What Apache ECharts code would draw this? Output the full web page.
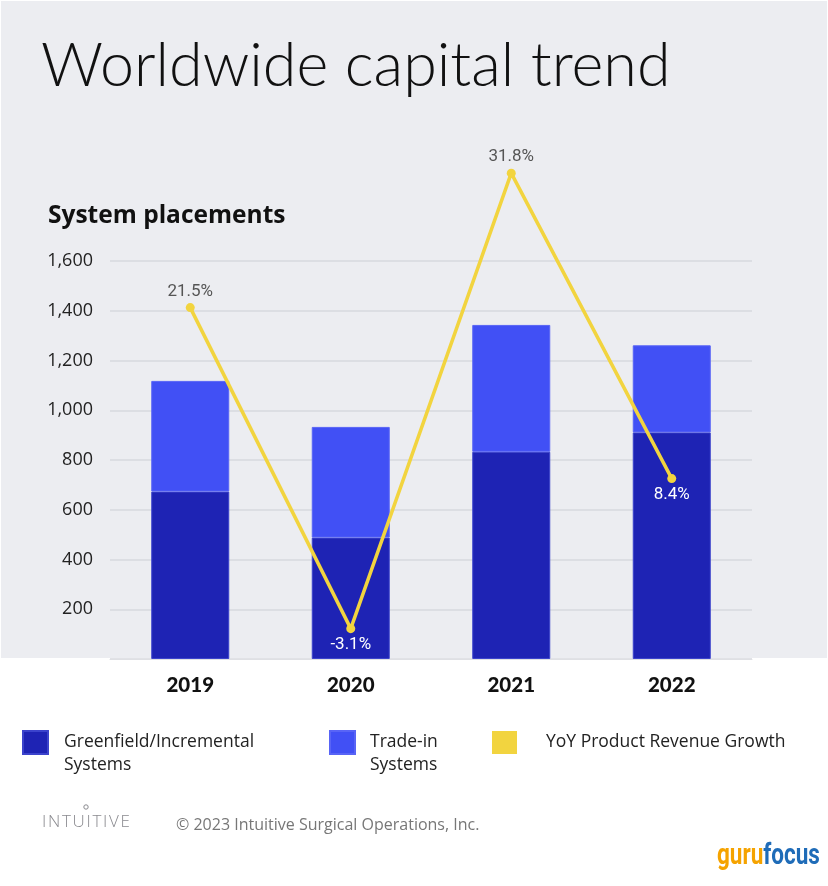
<!DOCTYPE html>
<html>
<head>
<meta charset="utf-8">
<script src="https://cdn.jsdelivr.net/npm/echarts@6/dist/echarts.min.js"></script>
<style>
  html, body { margin: 0; padding: 0; background: #fff; }
  #chart { width: 828px; height: 886px; }
</style>
</head>
<body>
<div id="chart"></div>
<script>
// data
const years = ['2019', '2020', '2021', '2022']
const greenfield = [673, 488, 833, 911]
const tradeIn = [445, 445, 510, 350]
const yoyGrowth = [21.5, -3.1, 31.8, 8.4]
const yTicks = [200, 400, 600, 800, 1000, 1200, 1400, 1600]

const c_dark = '#1e23b4'
const c_light = '#4150f5'
const c_yellow = '#f2d43f'
const bg = '#ecedf1'

// labels that sit inside the bars (white, below point)
const labelInside = [false, true, false, true]

const chart = echarts.init(document.getElementById('chart'))

const legendText = { fontFamily: 'Open Sans', fontSize: 17.5, color: '#222' }

const option = {
  backgroundColor: '#fff',
  animation: false,
  title: [
    {
      text: 'Worldwide capital trend',
      left: 41,
      top: 36,
      padding: 0,
      textStyle: { fontFamily: 'Lato', fontWeight: 300, fontSize: 61, color: '#111' }
    },
    {
      text: 'System placements',
      left: 48,
      top: 204,
      padding: 0,
      textStyle: { fontFamily: 'Open Sans', fontWeight: 'bold', fontSize: 24.5, color: '#111' }
    }
  ],
  graphic: [
    {
      type: 'rect',
      z: -10,
      silent: true,
      shape: { x: 1, y: 1, width: 826, height: 657 },
      style: { fill: bg }
    },
    {
      type: 'text',
      x: 42,
      y: 814,
      style: {
        text: 'INTUITIVE'.split('').join('\u200a'),
        font: '300 17px "Open Sans"',
        fill: '#8a8a8f'
      }
    },
    {
      type: 'circle',
      shape: { cx: 86, cy: 807, r: 2.2 },
      style: { fill: 'none', stroke: '#8a8a8f', lineWidth: 1 }
    },
    {
      type: 'text',
      x: 176,
      y: 817,
      style: {
        text: '\u00a9 2023 Intuitive Surgical Operations, Inc.',
        font: '16px "Open Sans"',
        fill: '#777'
      }
    },
    {
      type: 'text',
      x: 717,
      y: 841,
      scaleX: 0.75,
      style: {
        text: '{a|guru}{b|focus}',
        rich: {
          a: { fontFamily: 'Roboto', fontWeight: 'bold', fontSize: 30, fill: '#f5a300' },
          b: { fontFamily: 'Roboto', fontWeight: 'bold', fontSize: 30, fill: '#1f6cb8' }
        }
      }
    }
  ],
  legend: [
    {
      data: ['Greenfield/Incremental\nSystems'],
      left: 22,
      top: 708,
      padding: 0,
      icon: 'rect',
      itemWidth: 25,
      itemHeight: 23,
      selectedMode: false,
      formatter: name => '\n' + name,
      textStyle: Object.assign({}, legendText, { lineHeight: 23, padding: [0, 0, 0, 11] })
    },
    {
      data: ['Trade-in\nSystems'],
      left: 329,
      top: 708,
      padding: 0,
      icon: 'rect',
      itemWidth: 25,
      itemHeight: 23,
      selectedMode: false,
      formatter: name => '\n' + name,
      textStyle: Object.assign({}, legendText, { lineHeight: 23, padding: [0, 0, 0, 10] })
    },
    {
      data: ['YoY Product Revenue Growth'],
      left: 492,
      top: 731,
      padding: 0,
      icon: 'rect',
      itemWidth: 25,
      itemHeight: 23,
      selectedMode: false,
      textStyle: Object.assign({}, legendText, { lineHeight: 23, padding: [0, 0, 0, 24] })
    }
  ],
  grid: {
    left: 110,
    right: 76,
    top: 261,
    bottom: 227
  },
  xAxis: {
    type: 'category',
    data: years,
    axisLine: { show: true, lineStyle: { color: '#dfe0e4', width: 1 } },
    axisTick: { show: false },
    axisLabel: {
      margin: 16,
      fontFamily: 'Lato',
      fontWeight: 900,
      fontSize: 20.5,
      color: '#111'
    }
  },
  yAxis: [
    {
      type: 'value',
      min: 0,
      max: 1600,
      interval: 200,
      axisLine: { show: false },
      axisTick: { show: false },
      axisLabel: {
        margin: 17,
        fontFamily: 'Open Sans',
        fontSize: 18,
        color: '#222',
        formatter: v => (yTicks.includes(v) ? v.toLocaleString('en-US') : '')
      },
      splitLine: { lineStyle: { color: '#d7d8de', width: 1.5 } }
    },
    {
      type: 'value',
      min: -5.425,
      max: 25.07,
      show: false,
      splitLine: { show: false }
    }
  ],
  series: [
    {
      name: 'Greenfield/Incremental\nSystems',
      type: 'bar',
      stack: 'sys',
      barWidth: 78,
      data: greenfield,
      itemStyle: { color: c_dark, borderColor: '#3b43cc', borderWidth: 1 }
    },
    {
      name: 'Trade-in\nSystems',
      type: 'bar',
      stack: 'sys',
      barWidth: 78,
      data: tradeIn,
      itemStyle: { color: c_light, borderColor: '#5864f6', borderWidth: 1 }
    },
    {
      name: 'YoY Product Revenue Growth',
      type: 'line',
      yAxisIndex: 1,
      clip: false,
      z: 5,
      data: yoyGrowth.map((v, i) => ({
        value: v,
        label: labelInside[i]
          ? { position: 'bottom', distance: 3, color: '#fff' }
          : { position: 'top', distance: 3, color: '#555' }
      })),
      symbol: 'circle',
      symbolSize: 9,
      lineStyle: { color: c_yellow, width: 3.5 },
      itemStyle: { color: c_yellow },
      label: {
        show: true,
        fontFamily: 'Roboto',
        fontSize: 17,
        formatter: p => p.value + '%'
      }
    }
  ]
}

chart.setOption(option)
</script>
</body>
</html>
